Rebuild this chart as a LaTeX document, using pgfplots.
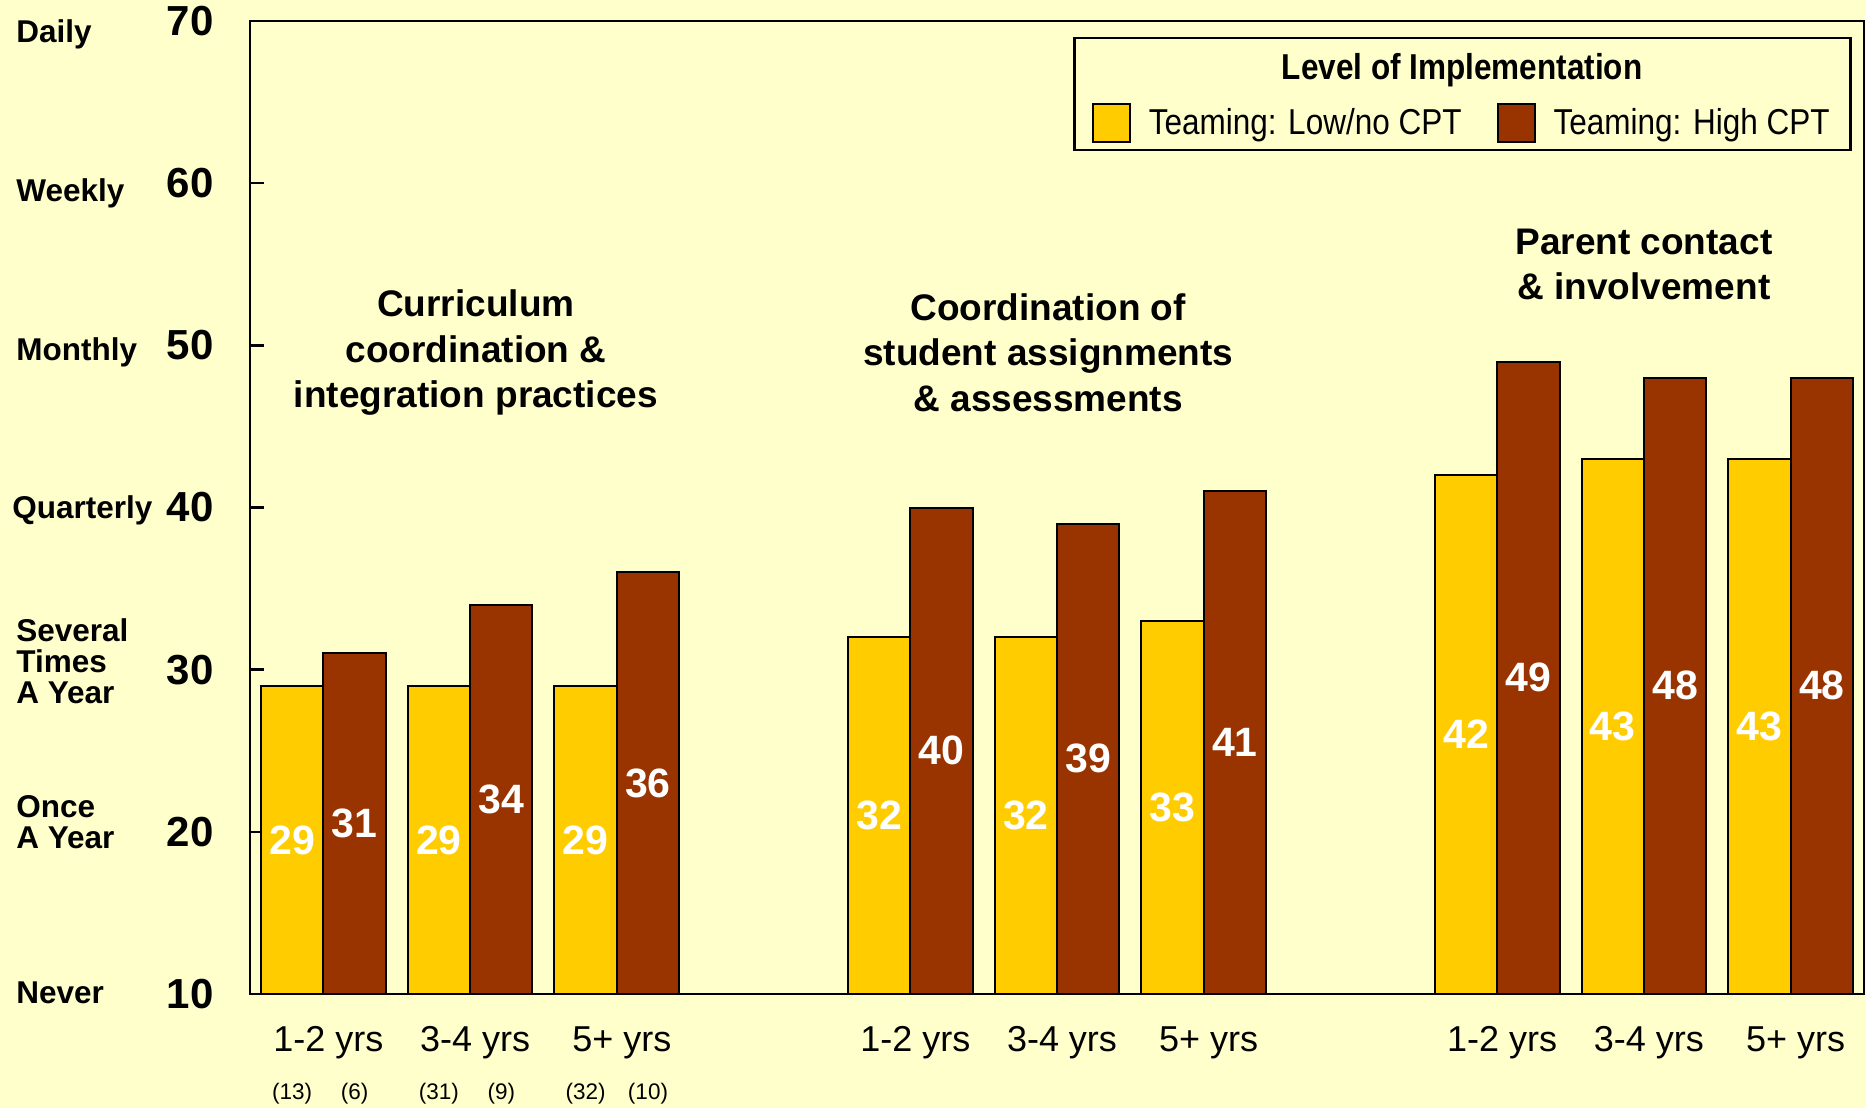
\documentclass[border=0pt]{standalone}
\usepackage{fontspec}
\setmainfont{Liberation Sans}
\newfontfamily\narrowfont[FakeStretch=0.875]{Liberation Sans}
\usepackage{pgfplots}
\pgfplotsset{compat=1.18}
\definecolor{bg}{HTML}{FFFFCC}
\definecolor{ylw}{HTML}{FFCC00}
\definecolor{brn}{HTML}{993300}
\begin{document}
\begin{tikzpicture}
\fill[bg] (-125pt,-57pt) rectangle (808pt,497pt);
\begin{axis}[
  at={(0pt,0pt)}, anchor=south west,
  scale only axis, width=807pt, height=486.5pt,
  xmin=-0.5, xmax=10.5, ymin=10, ymax=70,
  axis line style={line width=1.3pt},
  ytick={10,20,...,70},
  ytick pos=left, tick align=inside,
  major tick length=7pt,
  ytick style={black, line width=1.3pt},
  xtick={0,1,2,4,5,6,8,9,10},
  xticklabels={1-2 yrs,3-4 yrs,5+ yrs,1-2 yrs,3-4 yrs,5+ yrs,1-2 yrs,3-4 yrs,5+ yrs},
  xtick style={draw=none},
  /pgf/number format/assume math mode=true,
  yticklabel style={font=\fontsize{21}{21}\selectfont\bfseries, anchor=east, inner sep=0pt, xshift=-18pt},
  xticklabel style={font=\fontsize{18}{18}\selectfont, anchor=north, inner sep=0pt, yshift=-16pt, xshift=2.5pt},
  legend style={at={(rel axis cs:0.5213,0.8956)}, anchor=west, draw=none, fill=none,
    font=\narrowfont\fontsize{18}{18}\selectfont, inner sep=0pt,
    /tikz/every odd column/.append style={column sep=7pt},
    /tikz/every even column/.append style={column sep=15.5pt}},
  legend columns=2,
]
\addplot[ybar, bar width=0.425, bar shift=-0.2125, fill=ylw, draw=black, line width=1pt,
  legend image code/.code={\draw[fill=ylw,draw=black,line width=1pt] (0pt,-9.5pt) rectangle (18.5pt,9.5pt);},
  nodes near coords, visualization depends on=rawy\as\rawy,
  every node near coord/.append style={font=\fontsize{20.5}{20.5}\selectfont\bfseries, text=white, anchor=center, xshift=-15.59pt, yshift={-(\rawy-10)*4.054}}]
  coordinates {(0,29) (1,29) (2,29) (4,32) (5,32) (6,33) (8,42) (9,43) (10,43)};
\addlegendentry{Teaming: Low/no CPT}
\addplot[ybar, bar width=0.425, bar shift=0.2125, fill=brn, draw=black, line width=1pt,
  legend image code/.code={\draw[fill=brn,draw=black,line width=1pt] (0pt,-9.5pt) rectangle (18.5pt,9.5pt);},
  nodes near coords, visualization depends on=rawy\as\rawy,
  every node near coord/.append style={font=\fontsize{20.5}{20.5}\selectfont\bfseries, text=white, anchor=center, xshift=15.59pt, yshift={-(\rawy-10)*4.054}}]
  coordinates {(0,31) (1,34) (2,36) (4,40) (5,39) (6,41) (8,49) (9,48) (10,48)};
\addlegendentry{Teaming: High CPT}
\draw[line width=1.2pt] (rel axis cs:0.5109,0.8674) rectangle (rel axis cs:0.9917,0.9824);
\node[font=\narrowfont\bfseries\fontsize{18}{18}\selectfont] at (rel axis cs:0.751,0.9495) {Level of Implementation};
\node[align=center, font=\bfseries\fontsize{18.5}{22.6}\selectfont] at (axis cs:1.04,49.55) {Curriculum\\coordination \&\\integration practices};
\node[align=center, font=\bfseries\fontsize{18.5}{22.6}\selectfont] at (axis cs:4.94,49.55) {Coordination of\\student assignments\\\& assessments};
\node[align=center, font=\bfseries\fontsize{18.5}{22.6}\selectfont] at (axis cs:9,55) {Parent contact\\\& involvement};
\coordinate (L70) at (axis cs:-0.5,69.2);
\coordinate (L60) at (axis cs:-0.5,59.4);
\coordinate (L50) at (axis cs:-0.5,49.55);
\coordinate (L40) at (axis cs:-0.5,39.8);
\coordinate (L30) at (axis cs:-0.5,30.5);
\coordinate (L20) at (axis cs:-0.5,20.6);
\coordinate (L10) at (axis cs:-0.5,10.1);
\coordinate (n1) at (axis cs:-0.2125,10);
\coordinate (n2) at (axis cs:0.2125,10);
\coordinate (n3) at (axis cs:0.7875,10);
\coordinate (n4) at (axis cs:1.2125,10);
\coordinate (n5) at (axis cs:1.7875,10);
\coordinate (n6) at (axis cs:2.2125,10);
\end{axis}
\begin{scope}[every node/.style={anchor=west, align=left, inner sep=0pt, font=\bfseries\fontsize{15.75}{15.5}\selectfont}]
\node at ([xshift=-117pt]L70) {Daily};
\node at ([xshift=-117pt]L60) {Weekly};
\node at ([xshift=-117pt]L50) {Monthly};
\node at ([xshift=-119pt]L40) {Quarterly};
\node at ([xshift=-117pt]L30) {Several\\Times\\A Year};
\node at ([xshift=-117pt]L20) {Once\\A Year};
\node at ([xshift=-117pt]L10) {Never};
\end{scope}
\begin{scope}[every node/.style={inner sep=0pt, font=\fontsize{11.25}{11.25}\selectfont}]
\node at ([yshift=-49.8pt]n1) {(13)};
\node at ([yshift=-49.8pt]n2) {(6)};
\node at ([yshift=-49.8pt]n3) {(31)};
\node at ([yshift=-49.8pt]n4) {(9)};
\node at ([yshift=-49.8pt]n5) {(32)};
\node at ([yshift=-49.8pt]n6) {(10)};
\end{scope}
\pgfresetboundingbox
\path[use as bounding box] (-125pt,-57pt) rectangle (808pt,497pt);
\end{tikzpicture}
\end{document}
